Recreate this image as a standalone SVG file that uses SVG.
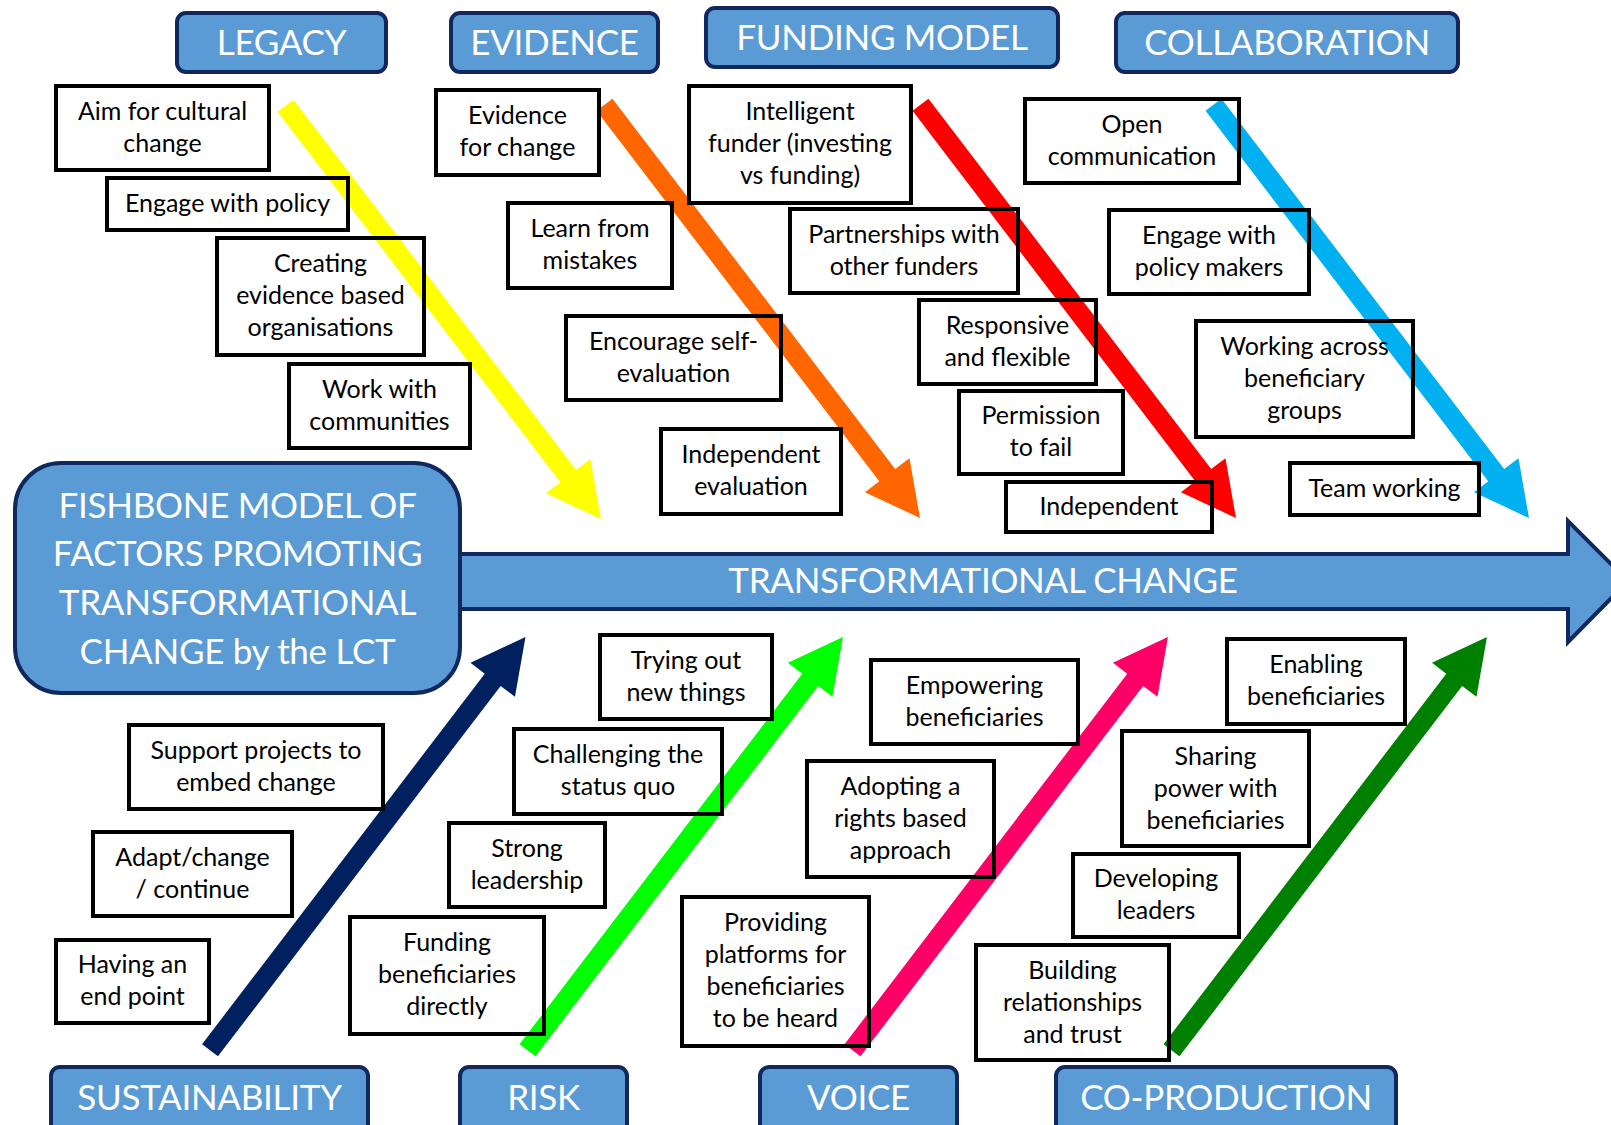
<svg xmlns="http://www.w3.org/2000/svg" xmlns:xlink="http://www.w3.org/1999/xlink" width="1611" height="1125" viewBox="0 0 1611 1125">
  <style>
    .hdr { fill: #5B9BD5; stroke: #10285E; stroke-width: 4; }
    .hdrt { font-family: Lato, "Liberation Sans", sans-serif; font-size: 35px; letter-spacing: -0.3px; fill: #FFFFFF; text-anchor: middle; }
    .box { fill: none; stroke: #000000; stroke-width: 4; }
    .bt { font-family: Lato, "Liberation Sans", sans-serif; font-size: 25px; fill: #000000; text-anchor: middle; }
  </style>
  <defs>
    <!-- block arrow pointing along +x, length 520 -->
    <path id="arw" d="M0,-10 H466 V-28 L520,0 L466,28 V10 H0 Z"/>
  </defs>
  <rect width="1611" height="1125" fill="#FFFFFF"/>

  <!-- spine -->
  <g id="spine">
    <path class="hdr" d="M440,554 H1568 V521 L1628,581 L1568,642 V609 H440 Z"/>
    <text class="hdrt" x="983" y="593">TRANSFORMATIONAL CHANGE</text>
  </g>

  <!-- title -->
  <g id="title">
    <rect class="hdr" x="15" y="463" width="445" height="230" rx="46"/>
    <text class="hdrt" x="237.5" y="518">FISHBONE MODEL OF</text>
    <text class="hdrt" x="237.5" y="566">FACTORS PROMOTING</text>
    <text class="hdrt" x="237.5" y="615">TRANSFORMATIONAL</text>
    <text class="hdrt" x="237.5" y="664">CHANGE by the LCT</text>
  </g>

  <!-- category headers -->
  <g id="cat-legacy"><rect class="hdr" x="177" y="13" width="209" height="59" rx="9"/><text class="hdrt" x="281.5" y="55">LEGACY</text></g>
  <g id="cat-evidence"><rect class="hdr" x="451" y="13" width="207" height="59" rx="9"/><text class="hdrt" x="554.5" y="55">EVIDENCE</text></g>
  <g id="cat-funding"><rect class="hdr" x="706" y="8" width="352" height="59" rx="9"/><text class="hdrt" x="882" y="50">FUNDING MODEL</text></g>
  <g id="cat-collab"><rect class="hdr" x="1116" y="13" width="342" height="59" rx="9"/><text class="hdrt" x="1287" y="55">COLLABORATION</text></g>
  <g id="cat-sustain"><rect class="hdr" x="51" y="1067" width="317" height="80" rx="9"/><text class="hdrt" x="209.5" y="1110">SUSTAINABILITY</text></g>
  <g id="cat-risk"><rect class="hdr" x="460" y="1067" width="167" height="80" rx="9"/><text class="hdrt" x="543.5" y="1110">RISK</text></g>
  <g id="cat-voice"><rect class="hdr" x="760" y="1067" width="197" height="80" rx="9"/><text class="hdrt" x="858.5" y="1110">VOICE</text></g>
  <g id="cat-coprod"><rect class="hdr" x="1056" y="1067" width="340" height="80" rx="9"/><text class="hdrt" x="1226" y="1110">CO-PRODUCTION</text></g>

  <!-- connectors: bones -->
  <g id="connectors">
    <use xlink:href="#arw" transform="translate(285.5,105.7) rotate(52.65)" fill="#FFFF00"/>
    <use xlink:href="#arw" transform="translate(604.5,104.7) rotate(52.65)" fill="#FF6600"/>
    <use xlink:href="#arw" transform="translate(920.5,104.7) rotate(52.65)" fill="#FF0000"/>
    <use xlink:href="#arw" transform="translate(1213.5,104.7) rotate(52.65)" fill="#00B0F0"/>
    <use xlink:href="#arw" transform="translate(210,1050.3) rotate(-52.65)" fill="#002060"/>
    <use xlink:href="#arw" transform="translate(527.5,1050.3) rotate(-52.65)" fill="#00FF00"/>
    <use xlink:href="#arw" transform="translate(852.5,1050.3) rotate(-52.65)" fill="#FF0066"/>
    <use xlink:href="#arw" transform="translate(1171.5,1050.3) rotate(-52.65)" fill="#008000"/>
  </g>

  <!-- factor boxes: legacy -->
  <g id="f-aim"><rect class="box" x="56" y="86" width="213" height="84"/><text class="bt" x="162.5" y="120">Aim for cultural</text><text class="bt" x="162.5" y="152">change</text></g>
  <g id="f-engage-policy"><rect class="box" x="107" y="178" width="241" height="52"/><text class="bt" x="227.5" y="212">Engage with policy</text></g>
  <g id="f-creating"><rect class="box" x="217" y="238" width="207" height="117"/><text class="bt" x="320.5" y="272">Creating</text><text class="bt" x="320.5" y="304">evidence based</text><text class="bt" x="320.5" y="336">organisations</text></g>
  <g id="f-communities"><rect class="box" x="289" y="364" width="181" height="84"/><text class="bt" x="379.5" y="398">Work with</text><text class="bt" x="379.5" y="430">communities</text></g>

  <!-- evidence -->
  <g id="f-evidence"><rect class="box" x="436" y="90" width="163" height="85"/><text class="bt" x="517.5" y="124">Evidence</text><text class="bt" x="517.5" y="156">for change</text></g>
  <g id="f-learn"><rect class="box" x="508" y="203" width="164" height="85"/><text class="bt" x="590" y="237">Learn from</text><text class="bt" x="590" y="269">mistakes</text></g>
  <g id="f-self-eval"><rect class="box" x="566" y="316" width="215" height="84"/><text class="bt" x="673.5" y="350">Encourage self-</text><text class="bt" x="673.5" y="382">evaluation</text></g>
  <g id="f-indep-eval"><rect class="box" x="661" y="429" width="180" height="85"/><text class="bt" x="751" y="463">Independent</text><text class="bt" x="751" y="495">evaluation</text></g>

  <!-- funding model -->
  <g id="f-intelligent"><rect class="box" x="689" y="86" width="222" height="117"/><text class="bt" x="800" y="120">Intelligent</text><text class="bt" x="800" y="152">funder (investing</text><text class="bt" x="800" y="184">vs funding)</text></g>
  <g id="f-partners"><rect class="box" x="790" y="209" width="228" height="84"/><text class="bt" x="904" y="243">Partnerships with</text><text class="bt" x="904" y="275">other funders</text></g>
  <g id="f-responsive"><rect class="box" x="919" y="300" width="177" height="84"/><text class="bt" x="1007.5" y="334">Responsive</text><text class="bt" x="1007.5" y="366">and flexible</text></g>
  <g id="f-permission"><rect class="box" x="959" y="391" width="164" height="83"/><text class="bt" x="1041" y="424">Permission</text><text class="bt" x="1041" y="456">to fail</text></g>
  <g id="f-independent"><rect class="box" x="1006" y="482" width="206" height="50"/><text class="bt" x="1109" y="515">Independent</text></g>

  <!-- collaboration -->
  <g id="f-open"><rect class="box" x="1025" y="99" width="214" height="84"/><text class="bt" x="1132" y="133">Open</text><text class="bt" x="1132" y="165">communication</text></g>
  <g id="f-policy-makers"><rect class="box" x="1109" y="210" width="200" height="84"/><text class="bt" x="1209" y="244">Engage with</text><text class="bt" x="1209" y="276">policy makers</text></g>
  <g id="f-working-across"><rect class="box" x="1196" y="321" width="217" height="116"/><text class="bt" x="1304.5" y="355">Working across</text><text class="bt" x="1304.5" y="387">beneficiary</text><text class="bt" x="1304.5" y="419">groups</text></g>
  <g id="f-team"><rect class="box" x="1290" y="463" width="189" height="52"/><text class="bt" x="1384.5" y="497">Team working</text></g>

  <!-- sustainability -->
  <g id="f-support"><rect class="box" x="129" y="725" width="254" height="84"/><text class="bt" x="256" y="759">Support projects to</text><text class="bt" x="256" y="791">embed change</text></g>
  <g id="f-adapt"><rect class="box" x="93" y="832" width="199" height="84"/><text class="bt" x="192.5" y="866">Adapt/change</text><text class="bt" x="192.5" y="898">/ continue</text></g>
  <g id="f-endpoint"><rect class="box" x="56" y="940" width="153" height="83"/><text class="bt" x="132.5" y="973">Having an</text><text class="bt" x="132.5" y="1005">end point</text></g>

  <!-- risk -->
  <g id="f-trying"><rect class="box" x="600" y="635" width="172" height="84"/><text class="bt" x="686" y="669">Trying out</text><text class="bt" x="686" y="701">new things</text></g>
  <g id="f-challenging"><rect class="box" x="514" y="729" width="208" height="85"/><text class="bt" x="618" y="763">Challenging the</text><text class="bt" x="618" y="795">status quo</text></g>
  <g id="f-leadership"><rect class="box" x="449" y="823" width="156" height="84"/><text class="bt" x="527" y="857">Strong</text><text class="bt" x="527" y="889">leadership</text></g>
  <g id="f-funding-direct"><rect class="box" x="350" y="917" width="194" height="117"/><text class="bt" x="447" y="951">Funding</text><text class="bt" x="447" y="983">beneficiaries</text><text class="bt" x="447" y="1015">directly</text></g>

  <!-- voice -->
  <g id="f-empowering"><rect class="box" x="871" y="660" width="207" height="84"/><text class="bt" x="974.5" y="694">Empowering</text><text class="bt" x="974.5" y="726">beneficiaries</text></g>
  <g id="f-rights"><rect class="box" x="807" y="761" width="187" height="116"/><text class="bt" x="900.5" y="795">Adopting a</text><text class="bt" x="900.5" y="827">rights based</text><text class="bt" x="900.5" y="859">approach</text></g>
  <g id="f-platforms"><rect class="box" x="682" y="897" width="187" height="149"/><text class="bt" x="775.5" y="931">Providing</text><text class="bt" x="775.5" y="963">platforms for</text><text class="bt" x="775.5" y="995">beneficiaries</text><text class="bt" x="775.5" y="1027">to be heard</text></g>

  <!-- co-production -->
  <g id="f-enabling"><rect class="box" x="1227" y="639" width="178" height="85"/><text class="bt" x="1316" y="673">Enabling</text><text class="bt" x="1316" y="705">beneficiaries</text></g>
  <g id="f-sharing"><rect class="box" x="1122" y="731" width="187" height="115"/><text class="bt" x="1215.5" y="765">Sharing</text><text class="bt" x="1215.5" y="797">power with</text><text class="bt" x="1215.5" y="829">beneficiaries</text></g>
  <g id="f-developing"><rect class="box" x="1073" y="854" width="166" height="83"/><text class="bt" x="1156" y="887">Developing</text><text class="bt" x="1156" y="919">leaders</text></g>
  <g id="f-building"><rect class="box" x="976" y="945" width="193" height="115"/><text class="bt" x="1072.5" y="979">Building</text><text class="bt" x="1072.5" y="1011">relationships</text><text class="bt" x="1072.5" y="1043">and trust</text></g>
</svg>
